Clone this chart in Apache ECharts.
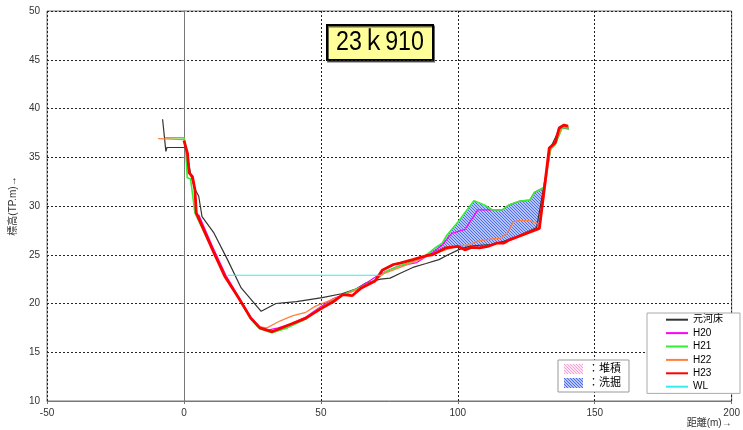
<!DOCTYPE html>
<html>
<head>
<meta charset="utf-8">
<script src="https://cdn.jsdelivr.net/npm/echarts@6/dist/echarts.min.js"></script>
<style>
  html, body { margin: 0; padding: 0; background: #fff; }
  #chart { width: 743px; height: 430px; }
</style>
</head>
<body>
<div id="chart"></div>
<script>
// Cross-section survey at 23k910: distance (m) vs elevation (TP m)
const sectionTitle = '23ｋ910';
const xTicks = { min: -50, max: 200, step: 50 };
const yTicks = { min: 10, max: 50, step: 5 };

const originalBed = [[-7.8,38.9],[-6.6,35.6],[-6.2,36.0],[0.7,36.0],[1.3,35.1],[2.5,33.2],[3.9,31.8],[5.4,31.0],[6.6,28.9],[10.8,27.3],[15.9,24.5],[20.9,21.6],[28.2,19.2],[33.6,20.0],[41.1,20.2],[50.5,20.6],[57.6,21.0],[63,21.5],[66.4,22.1],[71.8,22.5],[75.3,22.6],[79,23.1],[83.6,23.7],[88.4,24.1],[93.1,24.5],[96.5,25.0],[100.2,25.5],[103.8,25.85],[106.9,25.95],[112,26.05],[117,26.4],[122,26.9],[128.8,27.8],[133.9,36.0],[137.3,38.0],[140.6,37.9]];

const h20 = [[5.4,29.1],[10.8,25.6],[15.3,22.9],[19.7,20.8],[24.4,18.6],[27.7,17.6],[31,17.3],[34.4,17.5],[40,18.0],[44.5,18.6],[49.6,19.6],[54.6,20.5],[61.4,21.25],[66,22.0],[71.5,23.0],[78,23.8],[85,24.2],[88.4,24.8],[91.7,25.4],[94.3,26.0],[97.8,27.2],[102.6,27.6],[104.5,28.4],[107.3,29.6],[116.2,29.6],[118.6,30.1],[122.7,30.5],[126.3,30.6],[128,31.4],[131.4,31.9],[133.9,35.8],[138.1,38.0],[140.6,38.0]];

const h21 = [[-6.9,37.0],[0,37.0],[0.5,36.5],[1.2,32.9],[2.4,32.8],[4.0,29.3],[10.8,25.3],[14.9,22.8],[19.7,20.7],[24.4,18.4],[27.7,17.4],[32.1,17.0],[37.8,17.5],[44.5,18.4],[49.6,19.5],[54.6,20.3],[58,20.9],[64.8,21.7],[69.8,22.4],[73.2,23.2],[78.2,23.8],[83.3,24.3],[88.4,24.95],[91.7,25.7],[94.3,26.2],[96,27.0],[100.2,28.4],[105.9,30.55],[109.7,30.1],[112.7,29.6],[116.2,29.6],[118.6,30.1],[122.7,30.5],[126.3,30.6],[128,31.4],[131.4,31.9],[133.9,35.8],[135.6,36.3],[138.1,38.0],[140.6,38.0]];

const h22 = [[-9.4,36.9],[0,36.8],[1.3,35.4],[1.9,33.4],[3.1,33.0],[4.0,31.7],[4.5,29.3],[10.8,25.3],[14.9,22.8],[19.7,20.7],[24.4,18.5],[27.7,17.6],[30.3,17.5],[35,18.2],[39.8,18.75],[44.5,19.1],[47.9,19.7],[54,20.4],[57.6,20.8],[64.8,21.6],[69.8,22.4],[73.2,23.1],[78,23.6],[83.3,24.2],[88.4,24.8],[95.5,25.5],[100.2,25.9],[103.8,26.0],[107.3,26.4],[112,26.6],[115.6,26.7],[118,27.2],[120.4,28.4],[122.7,28.5],[126.3,28.5],[129.2,28.2],[129.8,27.7],[133.9,36.0],[135.6,36.5],[138.1,38.1],[140.6,38.2]];

const h23 = [[0,36.7],[1.3,35.4],[1.9,33.4],[3.1,33.0],[4.0,31.7],[4.5,29.3],[10.8,25.3],[14.9,22.8],[19.7,20.7],[24.4,18.5],[27.7,17.5],[32.1,17.1],[37.4,17.7],[44.5,18.5],[49.6,19.4],[54.6,20.2],[58,20.9],[61.4,20.8],[64.8,21.6],[69.8,22.3],[72.4,23.4],[76.5,24.0],[78.9,24.15],[83.6,24.5],[88.4,24.9],[90.7,25.0],[95.5,25.7],[100.2,25.85],[102.6,25.5],[105,25.75],[108,25.7],[110.9,25.85],[114.4,26.2],[116.8,26.2],[119.1,26.55],[129.8,27.7],[133.4,35.95],[135.6,36.5],[137,38.0],[138.8,38.3],[140.2,38.2]];

const waterLevel = [[15.9,22.9],[72.3,22.9]];

// Scour zones: older surveyed bed above the latest bed
const scourZones = [
  { upper: h20, lower: h23, from: 4.5, to: 27.7 },
  { upper: h21, lower: h23, from: 88.4, to: 131.4 }
];

function hatch(bg, fg) {
  const n = 3;
  const c = document.createElement('canvas');
  c.width = n; c.height = n;
  const g = c.getContext('2d');
  g.fillStyle = bg; g.fillRect(0, 0, n, n);
  g.fillStyle = fg;
  for (let i = 0; i < n; i++) g.fillRect(i, i, 1, 1);
  return { image: c, repeat: 'repeat' };
}
const scourFill = hatch('#b4c4fa', '#4d6ee8');
const depositFill = hatch('#fde6f3', '#f2a2d2');

const font = "'Liberation Sans', 'Noto Sans CJK JP', sans-serif";

function lineSeries(name, data, color, width, z) {
  return {
    type: 'line', name, data, symbol: 'none', showSymbol: false, z,
    lineStyle: { color, width }, itemStyle: { color },
    animation: false, silent: true
  };
}

const chart = echarts.init(document.getElementById('chart'));
chart.setOption({
  animation: false,
  backgroundColor: '#fff',
  graphic: [{
    type: 'group', left: 326, top: 24, z: 100,
    children: [
      { type: 'rect', shape: { x: 1, y: 1, width: 106, height: 35 },
        style: { fill: '#ffff99', stroke: '#000', lineWidth: 2, shadowColor: 'rgba(0,0,0,0.6)', shadowOffsetX: 1, shadowOffsetY: 1.5 } },
      { type: 'text', x: 54, y: 19, scaleX: 0.86, originX: 0, originY: 0,
        style: { text: sectionTitle, fontFamily: font, fontSize: 27, fill: '#000', align: 'center', verticalAlign: 'middle' } }
    ]
  }],
  grid: { left: 37, right: 2, top: 11, bottom: 29, show: true, borderColor: '#777', borderWidth: 1 },
  xAxis: {
    type: 'value', min: xTicks.min, max: xTicks.max, interval: xTicks.step,
    name: '距離(m)→', nameLocation: 'end', nameGap: 0,
    nameTextStyle: { fontFamily: font, fontSize: 10, color: '#333', align: 'right', verticalAlign: 'top', padding: [17, 0, 0, 0] },
    axisLine: { lineStyle: { color: '#777' } },
    axisTick: { show: true, length: 3, lineStyle: { color: '#777' } },
    axisLabel: { fontFamily: font, fontSize: 10, color: '#333', margin: 7 },
    splitLine: { lineStyle: { color: '#222', type: [2, 2], width: 1 } }
  },
  yAxis: {
    type: 'value', min: yTicks.min, max: yTicks.max, interval: yTicks.step,
    name: '標高(TP.m)→', nameLocation: 'middle', nameGap: 24,
    nameTextStyle: { fontFamily: font, fontSize: 10, color: '#333' },
    axisLine: { show: true, lineStyle: { color: '#777' } },
    axisTick: { show: true, length: 3, lineStyle: { color: '#777' } },
    axisLabel: { fontFamily: font, fontSize: 10, color: '#333', margin: 7 },
    splitLine: { lineStyle: { color: '#222', type: [2, 2], width: 1 } }
  },
  legend: [
    {
      data: ['元河床', 'H20', 'H21', 'H22', 'H23', 'WL'],
      orient: 'vertical', left: 647, top: 313,
      itemWidth: 22, itemHeight: 10, itemGap: 0,
      itemStyle: { opacity: 0 },
      padding: [0, 17, 0, 18],
      backgroundColor: '#fff', borderColor: '#aaa', borderWidth: 1,
      textStyle: { fontFamily: font, fontSize: 10, color: '#000', lineHeight: 13.4 },
      selectedMode: false
    },
    {
      data: [{ name: '堆積', icon: 'rect' }, { name: '洗掘', icon: 'rect' }],
      orient: 'vertical', left: 558, top: 360,
      itemWidth: 19, itemHeight: 10, itemGap: 2,
      padding: [3, 8, 3, 6],
      backgroundColor: '#fff', borderColor: '#999', borderWidth: 1,
      formatter: n => '：' + n,
      textStyle: { fontFamily: font, fontSize: 11, color: '#000', lineHeight: 12 },
      selectedMode: false
    }
  ],
  series: [
    {
      type: 'custom', name: '洗掘', z: 1, silent: true,
      data: [[0, 20]],
      itemStyle: { color: scourFill },
      renderItem: function (params, api) {
        return {
          type: 'group',
          children: scourZones.map(zone => {
            const up = zone.upper.filter(p => p[0] >= zone.from && p[0] <= zone.to);
            const low = zone.lower.filter(p => p[0] >= zone.from && p[0] <= zone.to).reverse();
            return {
              type: 'polygon',
              shape: { points: up.concat(low).map(p => api.coord(p)) },
              style: { fill: scourFill, stroke: null }
            };
          })
        };
      }
    },
    {
      type: 'custom', name: '堆積', z: 1, silent: true,
      data: [],
      itemStyle: { color: depositFill },
      renderItem: function () { return null; }
    },
    lineSeries('元河床', originalBed, '#333333', 1.2, 2),
    lineSeries('H20', h20, '#ff00ff', 1.3, 3),
    lineSeries('H21', h21, '#33ee33', 1.6, 4),
    lineSeries('H22', h22, '#ff7f3f', 1.3, 5),
    lineSeries('H23', h23, '#ff0000', 2.8, 6),
    lineSeries('WL', waterLevel, '#33eeee', 1.2, 7)
  ]
});
</script>
</body>
</html>
